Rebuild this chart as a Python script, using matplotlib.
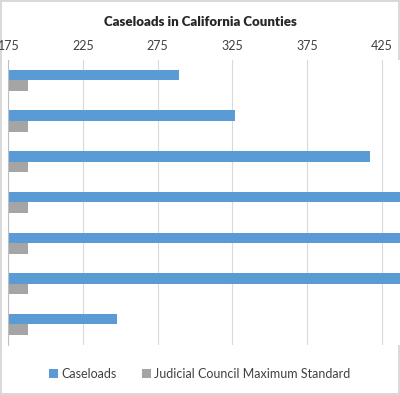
import numpy as np
import matplotlib.pyplot as plt

plt.rcParams['font.family'] = ['Lato', 'DejaVu Sans']

counties = ['A', 'B', 'C', 'D', 'E', 'F', 'G']
caseloads = [289, 327, 417, 520, 500, 480, 248]
standard = [188, 188, 188, 188, 188, 188, 188]
ticks = [175, 225, 275, 325, 375, 425]

blue = '#5B9BD5'
gray = '#A5A5A5'

fig = plt.figure(figsize=(4, 3.95), dpi=100)
fig.patch.set_edgecolor('#D9D9D9')
fig.patch.set_linewidth(1.5)
ax = fig.add_axes([0.021, 0.127, 1.12, 0.721])

y = np.arange(len(counties))
h = 0.26
ax.barh(y - h / 2, np.array(caseloads) - 175, left=175, height=h, color=blue, label='Caseloads')
ax.barh(y + h / 2, np.array(standard) - 175, left=175, height=h, color=gray,
        label='Judicial Council Maximum Standard')

ax.set_xlim(175, 475)
ax.set_ylim(len(counties) - 0.5, -0.5)
ax.set_xticks(ticks)
ax.xaxis.tick_top()
ax.tick_params(axis='x', length=0, labelsize=9, colors='#404040', pad=6)
ax.set_yticks([])
ax.grid(axis='x', color='#D9D9D9', lw=0.8)
ax.set_axisbelow(True)
for s in ['top', 'right', 'bottom']:
    ax.spines[s].set_visible(False)
ax.spines['left'].set_color('#BFBFBF')

fig.text(0.5, 0.945, 'Caseloads in California Counties', ha='center', va='center',
         fontsize=9.5, fontweight='heavy', color='#262626')
fig.legend(loc='center', bbox_to_anchor=(0.5, 0.053), ncol=2, frameon=False,
           fontsize=9, handlelength=0.7, handleheight=0.7, handletextpad=0.3,
           columnspacing=2.0, labelcolor='#404040')

fig.savefig('out.png', dpi=100, edgecolor=fig.get_edgecolor())
